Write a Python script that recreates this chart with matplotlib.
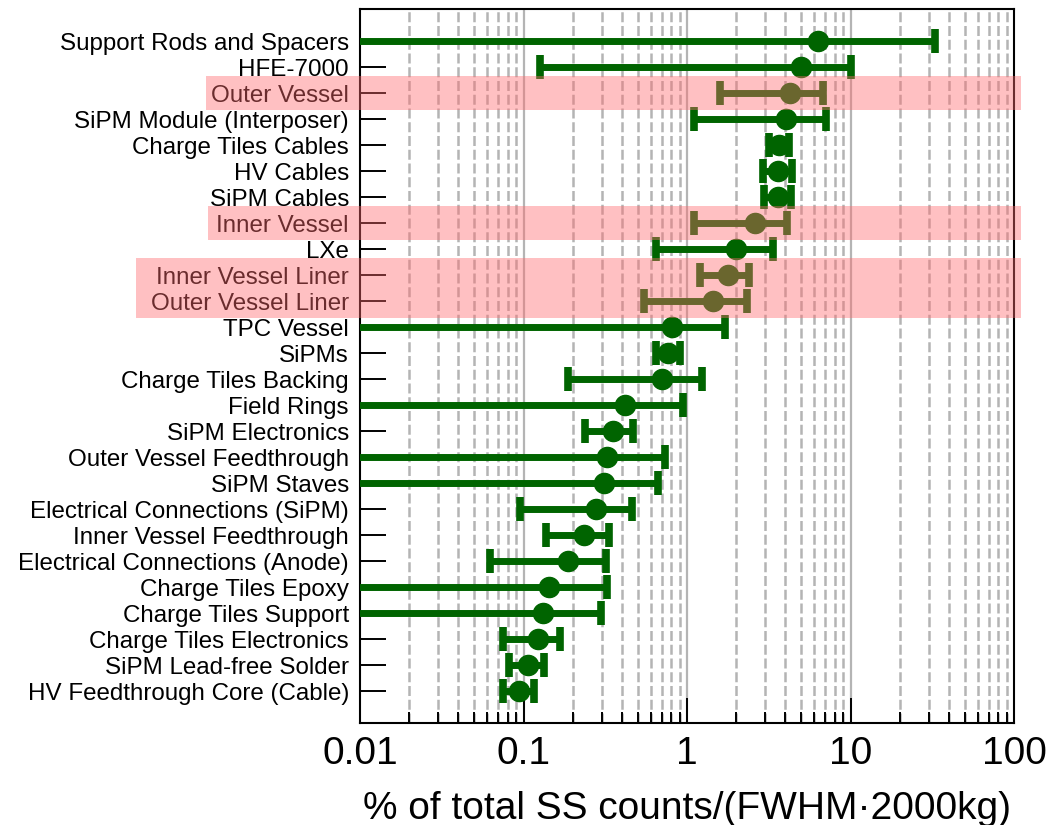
import matplotlib
matplotlib.use("Agg")
import matplotlib.pyplot as plt
import matplotlib.transforms as mtransforms
from matplotlib.patches import Rectangle
from matplotlib.ticker import NullFormatter, FixedLocator, FixedFormatter
import numpy as np

plt.rcParams["font.family"] = ["Liberation Sans", "DejaVu Sans"]

# Components, top to bottom, with best estimate and 90% interval.
# A lower limit of 0 means the interval has no lower bound.
components = [
    "Support Rods and Spacers", "HFE-7000", "Outer Vessel",
    "SiPM Module (Interposer)", "Charge Tiles Cables", "HV Cables",
    "SiPM Cables", "Inner Vessel", "LXe", "Inner Vessel Liner",
    "Outer Vessel Liner", "TPC Vessel", "SiPMs", "Charge Tiles Backing",
    "Field Rings", "SiPM Electronics", "Outer Vessel Feedthrough",
    "SiPM Staves", "Electrical Connections (SiPM)", "Inner Vessel Feedthrough",
    "Electrical Connections (Anode)", "Charge Tiles Epoxy",
    "Charge Tiles Support", "Charge Tiles Electronics",
    "SiPM Lead-free Solder", "HV Feedthrough Core (Cable)",
]
central = [6.3, 5.0, 4.25, 4.05, 3.65, 3.6, 3.6, 2.6, 2.0, 1.79, 1.45,
           0.81, 0.77, 0.705, 0.42, 0.353, 0.323, 0.311, 0.276, 0.234,
           0.188, 0.143, 0.132, 0.123, 0.107, 0.094]
lower = [0.0, 0.126, 1.6, 1.1, 3.15, 2.9, 2.95, 1.1, 0.65, 1.2, 0.545,
         0.0, 0.65, 0.188, 0.0, 0.238, 0.0, 0.0, 0.095, 0.137,
         0.0624, 0.0, 0.0, 0.0753, 0.0815, 0.075]
upper = [33.0, 10.0, 6.8, 7.1, 4.2, 4.4, 4.3, 4.1, 3.35, 2.4, 2.34,
         1.71, 0.9, 1.24, 0.94, 0.467, 0.733, 0.665, 0.459, 0.333,
         0.318, 0.323, 0.297, 0.167, 0.134, 0.116]

# highlighted row groups: (first row, last row, left edge in axes fraction)
highlights = [(2, 2, -0.2355), (7, 7, -0.232), (9, 10, -0.3425)]

xticks = [0.01, 0.1, 1, 10, 100]
xticklabels = ["0.01", "0.1", "1", "10", "100"]

GREEN = "#006400"
GRID = "#b4b4b4"

c = np.array(central)
lo = np.array(lower)
hi = np.array(upper)
ypos = np.arange(len(components))

fig = plt.figure(figsize=(10.53, 8.25), dpi=100)
ax = fig.add_axes([0.3419, 0.1236, 0.6211, 0.8654])
ax.set_xscale("log", nonpositive="clip")

# grid: solid at decades, dashed at the 2..9 subdivisions
minor = [m * d for d in (0.01, 0.1, 1, 10) for m in range(2, 10)]
for xv in minor:
    ax.axvline(xv, color=GRID, lw=1.8, ls=(0, (4, 1.5)), zorder=0.5)
for xv in (0.1, 1, 10):
    ax.axvline(xv, color=GRID, lw=1.6, zorder=0.5)

_, caps, _ = ax.errorbar(c, ypos, xerr=[c - lo, hi - c], fmt="o",
                         color=GREEN, ms=14.5, elinewidth=5, capsize=8.5,
                         capthick=5.5, zorder=3)
for cap in caps:
    cap.set_solid_capstyle("butt")

ax.set_xlim(0.01, 100)
ax.set_ylim(len(components) - 1 + 1.23, -1.23)

ax.set_yticks(ypos)
ax.set_yticklabels(components, fontsize=17.4)
ax.xaxis.set_major_locator(FixedLocator(xticks))
ax.xaxis.set_major_formatter(FixedFormatter(xticklabels))
ax.xaxis.set_minor_locator(FixedLocator(minor))
ax.xaxis.set_minor_formatter(NullFormatter())
ax.tick_params(axis="x", which="major", direction="in", length=18,
               width=1.4, labelsize=28, pad=9)
ax.tick_params(axis="x", which="minor", direction="in", length=8,
               width=1.4)
ax.tick_params(axis="y", which="both", direction="in", length=18.7,
               width=1.4, pad=8)
ax.tick_params(axis="y", which="minor", left=False)
for s in ax.spines.values():
    s.set_linewidth(1.5)

ax.set_xlabel("% of total SS counts/(FWHM\u00b72000kg)", fontsize=28,
              labelpad=14)

# translucent red bands over the flagged rows, drawn above everything
trans = mtransforms.blended_transform_factory(ax.transAxes, ax.transData)
for first, last, x0 in highlights:
    y0 = first - 0.64
    h = (last - first) + 1.28
    band = Rectangle((x0, y0), 1.01 - x0, h, transform=trans,
                     facecolor="#ff6b6e", alpha=0.42, edgecolor="none",
                     zorder=10, clip_on=False)
    fig.add_artist(band)

fig.savefig("out.png", dpi=100)
